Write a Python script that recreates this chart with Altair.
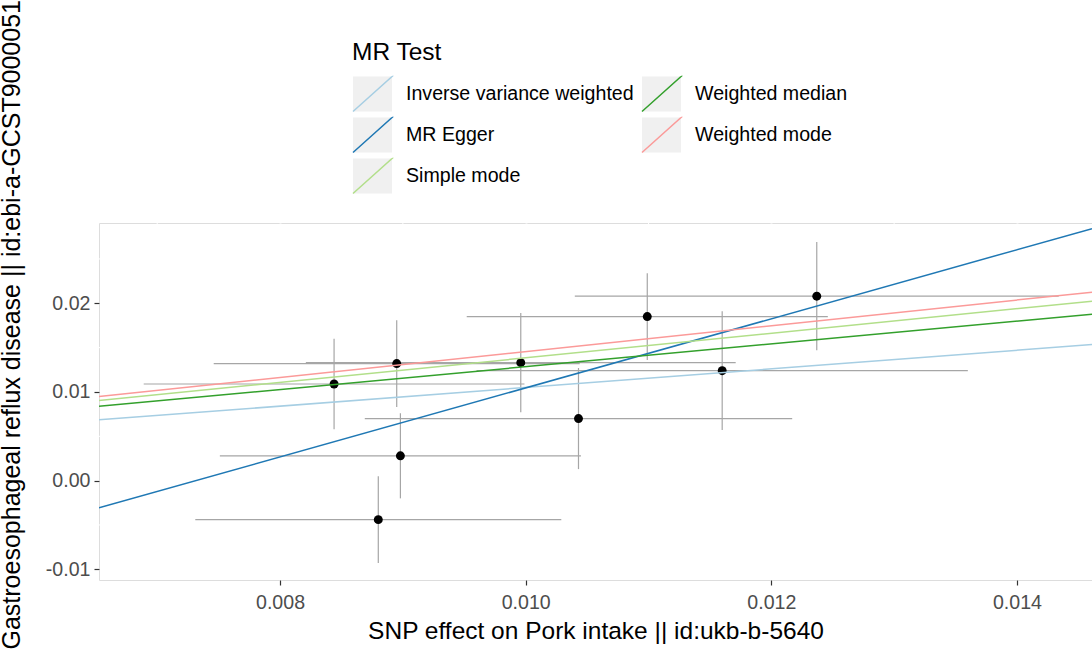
import altair as alt
import pandas as pd

# SNP-level effects: exposure (x) and outcome (y) with standard errors
snp_bx = [0.00844, 0.00895, 0.00898, 0.00880, 0.00996, 0.01043, 0.01099, 0.01160, 0.01237]
snp_by = [0.0109, 0.0132, 0.0028, -0.0044, 0.0133, 0.0070, 0.0185, 0.0124, 0.0208]
snp_se_x = [0.00155, 0.00149, 0.00147, 0.00149, 0.00175, 0.00174, 0.00147, 0.00200, 0.00197]
snp_se_y = [0.0051, 0.0049, 0.0048, 0.0049, 0.0056, 0.0057, 0.0049, 0.0067, 0.0061]

# MR methods (legend fills column by column, two columns)
methods = ["Inverse variance weighted", "MR Egger", "Simple mode", "Weighted median", "Weighted mode"]
method_colors = ["#a6cee3", "#1f78b4", "#b2df8a", "#33a02c", "#fb9a99"]
method_slope = [1.05, 3.896, 1.385, 1.285, 1.455]
method_intercept = [0.0, -0.0285, 0.0, 0.0, 0.0]

# axis limits, ticks and minor grid positions
x_domain = [0.006526, 0.014611]
y_domain = [-0.011207, 0.029056]
x_ticks = [0.008, 0.010, 0.012, 0.014]
y_ticks = [-0.01, 0.0, 0.01, 0.02]
x_minor = [0.007, 0.009, 0.011, 0.013]
y_minor = [-0.005, 0.005, 0.015, 0.025]

FONT = "Liberation Sans"
ERR_COLOR = "#a6a6a6"
KEY_FILL = "#f0f0f0"

snps = pd.DataFrame({"bx": snp_bx, "by": snp_by, "se_x": snp_se_x, "se_y": snp_se_y})
snps["x_lo"] = snps.bx - snps.se_x
snps["x_hi"] = snps.bx + snps.se_x
snps["y_lo"] = snps.by - snps.se_y
snps["y_hi"] = snps.by + snps.se_y

# each abline drawn across the full x range of the panel
line_rows = []
for m, b, a in zip(methods, method_slope, method_intercept):
    for xv in x_domain:
        line_rows.append({"method": m, "lx": xv, "ly": a + b * xv})
lines_df = pd.DataFrame(line_rows)

x_scale = alt.Scale(domain=x_domain, nice=False, zero=False)
y_scale = alt.Scale(domain=y_domain, nice=False, zero=False)

axis_x = alt.Axis(
    values=x_ticks,
    labelExpr="replace(format(datum.value, '.3f'), '\u2212', '-')",
    title="SNP effect on Pork intake || id:ukb-b-5640",
    grid=True, gridColor="white", gridWidth=2,
    domain=False, tickColor="#333333", tickSize=5, tickWidth=1.2,
    labelColor="#4d4d4d", labelFontSize=19.6, labelFont=FONT, labelPadding=8,
    titleFontSize=24.5, titleFont=FONT, titleFontWeight="normal", titleColor="black",
    titlePadding=8,
)
axis_y = alt.Axis(
    values=y_ticks,
    labelExpr="replace(format(datum.value, '.2f'), '\u2212', '-')",
    title="Gastroesophageal reflux disease || id:ebi-a-GCST90000514",
    grid=True, gridColor="white", gridWidth=2,
    domain=False, tickColor="#333333", tickSize=5, tickWidth=1.2,
    labelColor="#4d4d4d", labelFontSize=19.6, labelFont=FONT, labelPadding=4,
    titleFontSize=25, titleFont=FONT, titleFontWeight="normal", titleColor="black",
    titleAngle=270, titleAlign="left", titleBaseline="middle",
    titleX=-88, titleY=426,
)


def X(field):
    return alt.X(field, type="quantitative", scale=x_scale, axis=axis_x)


def Y(field):
    return alt.Y(field, type="quantitative", scale=y_scale, axis=axis_y)


# legend key: grey box with the coloured diagonal; a single open path runs
# along the diagonal first, then round the box, and the dash pattern only
# strokes the diagonal while the fill covers the whole box
KEY_W = 39
KEY_H = 35
hy = KEY_H / KEY_W
KEY_PATH = f"M-1,{hy:.3f}L1,-{hy:.3f}L-1,-{hy:.3f}L-1,{hy:.3f}L1,{hy:.3f}L1,-{hy:.3f}"
DIAG_LEN = (KEY_W ** 2 + KEY_H ** 2) ** 0.5

minor_v = alt.Chart(pd.DataFrame({"v": x_minor})).mark_rule(
    color="white", strokeWidth=1
).encode(x=X("v"))
minor_h = alt.Chart(pd.DataFrame({"v": y_minor})).mark_rule(
    color="white", strokeWidth=1
).encode(y=Y("v"))

vbars = alt.Chart(snps).mark_rule(color=ERR_COLOR, strokeWidth=1.2).encode(
    x=X("bx"), y=Y("y_lo"), y2="y_hi"
)
hbars = alt.Chart(snps).mark_rule(color=ERR_COLOR, strokeWidth=1.2).encode(
    x=X("x_lo"), x2="x_hi", y=Y("by")
)
points = alt.Chart(snps).mark_circle(size=80, color="black", opacity=1).encode(
    x=X("bx"), y=Y("by")
)
mr_lines = alt.Chart(lines_df).mark_line(strokeWidth=1.5, clip=True).encode(
    x=X("lx"),
    y=Y("ly"),
    color=alt.Color(
        "method:N",
        scale=alt.Scale(domain=methods, range=method_colors),
        legend=alt.Legend(
            title="MR Test", titleColor="black", labelColor="black",
            orient="none", legendX=253, legendY=-182, columns=2, direction="vertical",
            columnPadding=5, rowPadding=0, padding=0,
            labelFont=FONT, labelFontSize=19.6, labelOffset=13, labelLimit=400,
            titleFont=FONT, titleFontSize=24.5, titleFontWeight="normal", titlePadding=8,
            symbolSize=KEY_W ** 2, symbolType=KEY_PATH, symbolStrokeWidth=1.5,
            symbolFillColor=KEY_FILL, symbolOpacity=1, symbolDash=[DIAG_LEN, 2000],
        ),
    ),
)

chart = (
    alt.layer(minor_v, minor_h, vbars, hbars, points, mr_lines)
    .properties(
        width=993, height=357,
        padding={"left": 99, "top": 223, "right": 0, "bottom": 75},
        autosize=alt.AutoSizeParams(type="none"),
        background="white",
    )
    .configure_view(fill="#ebebeb", strokeWidth=0)
    .configure(font=FONT)
)

chart.save("out.html", embed_options={"renderer": "svg", "actions": False})
